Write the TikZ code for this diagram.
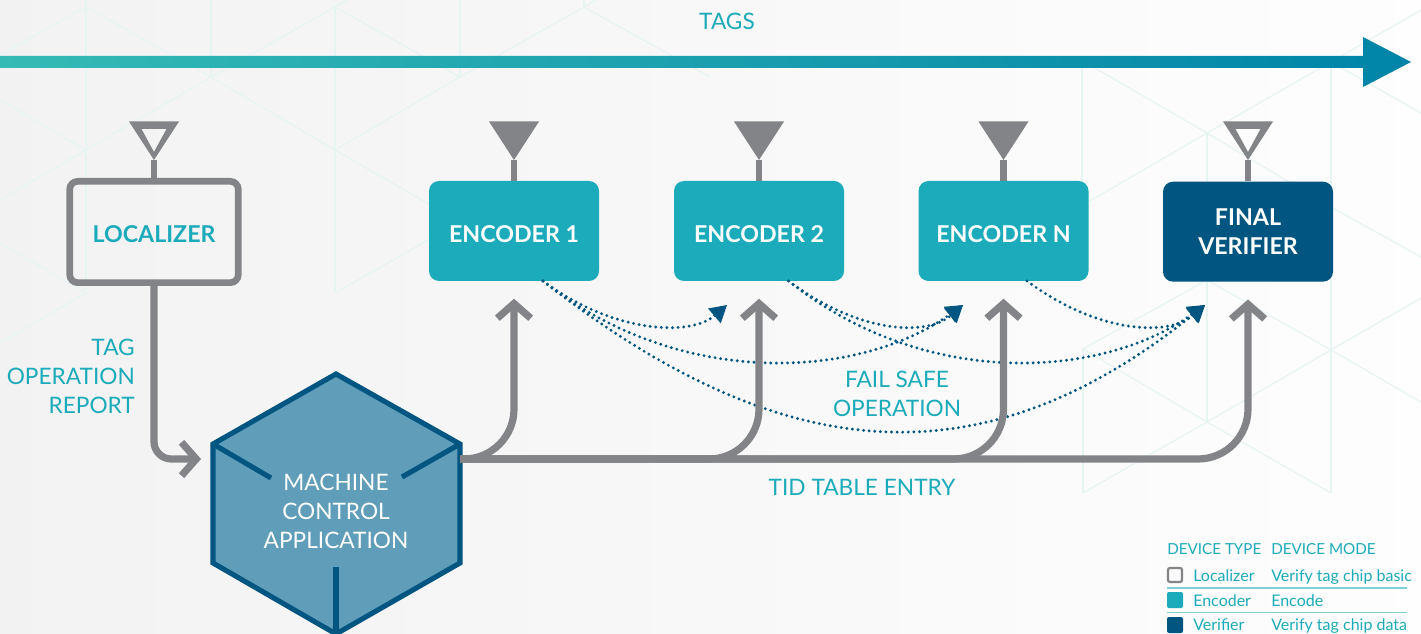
\documentclass[tikz,border=0pt]{standalone}
\usepackage{fontspec}
\setmainfont{Lato}
\usetikzlibrary{arrows, arrows.meta}
\usetikzlibrary{calc}

\definecolor{tealc}{HTML}{1BABBA}
\definecolor{navyc}{HTML}{005581}
\definecolor{greyc}{HTML}{838487}
\definecolor{cubec}{HTML}{5F9DB9}
\definecolor{latticec}{HTML}{E6F4F2}
\definecolor{rulec}{HTML}{7FCFD4}
\definecolor{barL}{HTML}{35BAB5}
\definecolor{barM}{HTML}{14A3B7}
\definecolor{barR}{HTML}{0084A8}

\tikzset{
  verbox/.style={rectangle, fill=navyc, rounded corners=7.5pt, minimum width=127.5pt, minimum height=75pt, text=white, font=\fontsize{17.4}{21.75}\selectfont\bfseries, align=center},
  encbox/.style={verbox, fill=tealc, text height=17pt, text depth=0pt},
  locbox/.style={rectangle, draw=greyc, line width=5pt, rounded corners=6pt, minimum width=126.4pt, minimum height=76pt, text=tealc, text height=16pt, text depth=0pt, font=\fontsize{17.4}{21.75}\selectfont\bfseries},
  tealtext/.style={text=tealc, font=\fontsize{17}{21.75}\selectfont, align=center, inner sep=0pt},
  headtext/.style={text=tealc, font=\fontsize{11.4}{12}\selectfont, anchor=base west, inner sep=0pt},
  legtext/.style={text=tealc, font=\fontsize{12}{12}\selectfont, anchor=base west, inner sep=0pt},
  swatch/.style={rectangle, rounded corners=1.5pt, minimum size=12pt, inner sep=0pt},
  lattice/.style={draw=latticec, line width=0.9pt},
  flow/.style={draw=greyc, line width=5.4pt, rounded corners=37.5pt, -{Straight Barb[length=11pt, width=25pt, line width=5.4pt]}},
  stem/.style={draw=greyc, line width=4.9pt},
  failsafe/.style={draw=navyc, line width=2.4pt, line cap=round, dash pattern=on 0pt off 4.2pt, -{Triangle[length=12.5pt, width=14pt, fill=navyc]}},
}

\begin{document}
\begin{tikzpicture}[x=0.75pt, y=-0.75pt]
      \useasboundingbox (0,0) rectangle (1421,634);
      \shade[left color=black!5, right color=black!0.5, shading angle=90] (0,0) rectangle (1421,634);

      % faint cubes behind everything
      \clip (0,0) rectangle (1421,634);
      \draw[lattice] (0,55) -- (86,7) -- (211,77) -- (335,150) -- (460,222);
      \draw[lattice] (86,150) -- (211,77) -- (335,7) -- (347,0);
      \draw[lattice] (335,150) -- (460,77) -- (584,7) -- (596,0);
      \draw[lattice] (460,77) -- (335,7);
      \draw[lattice] (584,7) -- (710,77);
      \draw[lattice] (0,100) -- (86,150) -- (0,200);
      \draw[lattice] (0,243) -- (86,293) -- (0,343);
      \draw[lattice] (335,293) -- (460,222);
      \draw[lattice] (86,0) -- (86,293);
      \draw[lattice] (211,0) -- (211,77);
      \draw[lattice] (335,7) -- (335,293);
      \draw[lattice] (460,0) -- (460,77);
      \draw[lattice] (584,0) -- (584,7);
      \draw[lattice] (1095,68) -- (1207,133) -- (1331,207) -- (1421,257);
      \draw[lattice] (1083,205) -- (1207,133) -- (1331,62) -- (1421,10);
      \draw[lattice] (1331,62) -- (1421,113);
      \draw[lattice] (1082,62) -- (1082,205);
      \draw[lattice] (1331,62) -- (1331,493);
      \draw[lattice] (1207,133) -- (1207,422);
      \draw[lattice] (1083,349) -- (1083,493);
      \draw[lattice] (1207,280) -- (1083,349) -- (1207,422) -- (1331,493);
      \draw[lattice] (1083,493) -- (1207,422) -- (1331,350) -- (1421,298);
      \draw[lattice] (1207,280) -- (1331,350) -- (1421,402);

      \node[tealtext] (tags) at (727,21.5) {TAGS};
      \shade[left color=barL, middle color=barM, right color=barR]
        (0,56) -- (1363,56) -- (1363,37) -- (1411,62) -- (1363,87) -- (1363,68) -- (0,68) -- cycle;

      \node[locbox] (loc) at (154,232) {LOCALIZER};
      \node[encbox] (enc1) at (514,231) {ENCODER 1};
      \node[encbox] (enc2) at (759,231) {ENCODER 2};
      \node[encbox] (encN) at (1003.5,231) {ENCODER N};
      \node[verbox] (ver) at (1248,231.7) {FINAL\\VERIFIER};

      % antennas
      \coordinate (locA) at (154,160);
      \coordinate (enc1A) at (514,160);
      \coordinate (enc2A) at (759,160);
      \coordinate (encNA) at (1003.5,160);
      \coordinate (verA) at (1248,160);
      \draw[stem] (loc.north) -- (locA);
      \draw[stem] (enc1.north) -- (enc1A);
      \draw[stem] (enc2.north) -- (enc2A);
      \draw[stem] (encN.north) -- (encNA);
      \draw[stem] (ver.north) -- (verA);
      \fill[greyc, even odd rule] (locA) -- ++(-25,-38.5) -- ++(50,0) -- cycle
        ($(locA)+(0,-8)$) -- ++(-12.5,-23) -- ++(25,0) -- cycle;
      \fill[greyc] (enc1A) -- ++(-25,-38.5) -- ++(50,0) -- cycle;
      \fill[greyc] (enc2A) -- ++(-25,-38.5) -- ++(50,0) -- cycle;
      \fill[greyc] (encNA) -- ++(-25,-38.5) -- ++(50,0) -- cycle;
      \fill[greyc, even odd rule] (verA) -- ++(-25,-38.5) -- ++(50,0) -- cycle
        ($(verA)+(0,-8)$) -- ++(-12.5,-23) -- ++(25,0) -- cycle;

      % fail safe curves
      \draw[failsafe] (543,281) .. controls (613,333) and (690,337) .. (727,305);
      \draw[failsafe] (543,281) .. controls (680,390) and (860,379) .. (963,305);
      \draw[failsafe] (543,281) .. controls (773,461) and (975,490) .. (1205,305);
      \draw[failsafe] (788.6,281) .. controls (858,333) and (926,337) .. (963,305);
      \draw[failsafe] (788.6,281) .. controls (925,390) and (1102,379) .. (1205,305);
      \draw[failsafe] (1027,281) .. controls (1097,333) and (1168,337) .. (1205,305);

      % the cube
      \coordinate (mcaIn) at (201,459);
      \coordinate (mcaOut) at (460,459);
      \draw[navyc, line width=3.8pt, fill=cubec, line join=miter]
        (336,374) -- (460,444) -- (460,563) -- (336,634) -- (213,563) -- (213,444) -- cycle;
      \coordinate (cubeL) at (213,444);
      \coordinate (cubeR) at (460,444);
      \draw[navyc, line width=3.8pt] (cubeL) -- (271,478);
      \draw[navyc, line width=3.8pt] (cubeR) -- (402,477);
      \draw[navyc, line width=3.8pt] (336,567) -- (336,634);
      \node[tealtext, text=white] (mca) at (336,511.2) {MACHINE\\CONTROL\\APPLICATION};

      % connectors
      \draw[flow, rounded corners=13pt] (loc.south) |- (mcaIn);
      \draw[flow] (mcaOut) -| ($(enc1.south)+(0,17.5)$);
      \draw[flow] (mcaOut) -| ($(enc2.south)+(0,17.5)$);
      \draw[flow] (mcaOut) -| ($(encN.south)+(0,17.5)$);
      \draw[flow] (mcaOut) -| ($(ver.south)+(0,17.5)$);

      \node[tealtext, align=right, anchor=east] (report) at (135,376) {TAG\\OPERATION\\REPORT};
      \node[tealtext] (fail) at (897,393.5) {FAIL SAFE\\OPERATION};
      \node[tealtext] (tid) at (862,487.5) {TID TABLE ENTRY};

      % legend
      \node[headtext] (headA) at (1167,554.5) {DEVICE TYPE};
      \node[headtext] (headB) at (1271,554.5) {DEVICE MODE};
      \node[swatch, draw=greyc, line width=1.7pt, minimum size=10.5pt] (sw1) at (1175,575) {};
      \node[swatch, fill=tealc] (sw2) at (1175,600) {};
      \node[swatch, fill=navyc] (sw3) at (1175,625) {};
      \node[legtext] (t1) at (1193,581.5) {Localizer};
      \node[legtext] (t2) at (1193,606) {Encoder};
      \node[legtext] (t3) at (1193,630) {Verifier};
      \node[legtext] (m1) at (1271,581.5) {Verify tag chip basic};
      \node[legtext] (m2) at (1271,606) {Encode};
      \node[legtext] (m3) at (1271,630) {Verify tag chip data};
      \draw[rulec, line width=1pt] (1167,588) -- (1407,588);
      \draw[rulec, line width=1pt] (1167,612.7) -- (1407,612.7);
    \end{tikzpicture}
\end{document}
